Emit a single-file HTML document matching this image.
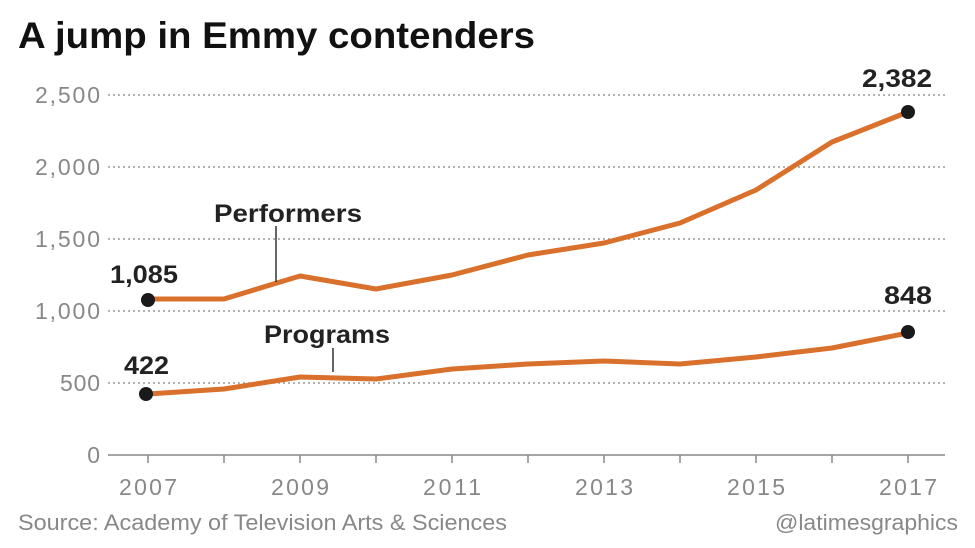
<!DOCTYPE html>
<html><head><meta charset="utf-8"><style>
html,body{margin:0;padding:0;background:#fff;}
svg{display:block;font-family:"Liberation Sans",sans-serif;}
</style></head><body>
<svg width="975" height="548" viewBox="0 0 975 548">
<text x="18" y="48" font-size="37" font-weight="bold" fill="#111" textLength="517" lengthAdjust="spacingAndGlyphs">A jump in Emmy contenders</text>
<g stroke="#999" stroke-width="1.5" stroke-dasharray="2,3">
<line x1="108" y1="95" x2="945" y2="95"/>
<line x1="108" y1="167" x2="945" y2="167"/>
<line x1="108" y1="239" x2="945" y2="239"/>
<line x1="108" y1="311" x2="945" y2="311"/>
<line x1="108" y1="383" x2="945" y2="383"/>
</g>
<line x1="108" y1="455" x2="945" y2="455" stroke="#888" stroke-width="1.5"/>
<g stroke="#888" stroke-width="1.5">
<line x1="148" y1="455" x2="148" y2="463"/><line x1="224" y1="455" x2="224" y2="463"/>
<line x1="300" y1="455" x2="300" y2="463"/><line x1="376" y1="455" x2="376" y2="463"/>
<line x1="452" y1="455" x2="452" y2="463"/><line x1="528" y1="455" x2="528" y2="463"/>
<line x1="604" y1="455" x2="604" y2="463"/><line x1="680" y1="455" x2="680" y2="463"/>
<line x1="756" y1="455" x2="756" y2="463"/><line x1="832" y1="455" x2="832" y2="463"/>
<line x1="908" y1="455" x2="908" y2="463"/>
</g>
<g font-size="23" fill="#888" text-anchor="end" lengthAdjust="spacingAndGlyphs">
<text x="100" y="103" textLength="65">2,500</text><text x="100" y="175" textLength="65">2,000</text>
<text x="100" y="247" textLength="65">1,500</text><text x="100" y="319" textLength="65">1,000</text>
<text x="100" y="391" textLength="40">500</text><text x="100" y="463">0</text>
</g>
<g font-size="23" fill="#888" text-anchor="middle">
<text x="148" y="495" textLength="58">2007</text><text x="300" y="495" textLength="58">2009</text><text x="452" y="495" textLength="58">2011</text>
<text x="604" y="495" textLength="58">2013</text><text x="756" y="495" textLength="58">2015</text><text x="908" y="495" textLength="58">2017</text>
</g>
<polyline fill="none" stroke="#d9702c" stroke-width="5" stroke-linejoin="round" points="148,299 224,299 300,276 376,289 452,275 528,255 604,243 680,223 756,190 832,142 908,112"/>
<polyline fill="none" stroke="#d9702c" stroke-width="5" stroke-linejoin="round" points="148,394 224,389 300,377 376,379 452,369 528,364 604,361 680,364 756,357 832,348 908,333"/>
<g fill="#1a1a1a">
<circle cx="148" cy="300" r="7"/><circle cx="908" cy="112" r="7"/>
<circle cx="146" cy="394" r="7"/><circle cx="908" cy="332" r="7"/>
</g>
<line x1="276" y1="226" x2="276" y2="282" stroke="#333" stroke-width="1.5"/>
<line x1="333" y1="348" x2="333" y2="372" stroke="#333" stroke-width="1.5"/>
<g font-size="25" font-weight="bold" fill="#222">
<text x="214" y="222" textLength="148" lengthAdjust="spacingAndGlyphs">Performers</text>
<text x="264" y="343" textLength="126" lengthAdjust="spacingAndGlyphs">Programs</text>
<text x="110" y="283" textLength="68" lengthAdjust="spacingAndGlyphs">1,085</text>
<text x="124" y="374" textLength="45" lengthAdjust="spacingAndGlyphs">422</text>
<text x="862" y="87" textLength="70" lengthAdjust="spacingAndGlyphs">2,382</text>
<text x="884" y="304" textLength="48" lengthAdjust="spacingAndGlyphs">848</text>
</g>
<text x="18" y="530" font-size="22" fill="#888" textLength="489" lengthAdjust="spacingAndGlyphs">Source: Academy of Television Arts &amp; Sciences</text>
<text x="775" y="530" font-size="22" fill="#888" textLength="183" lengthAdjust="spacingAndGlyphs">@latimesgraphics</text>
</svg>
</body></html>
